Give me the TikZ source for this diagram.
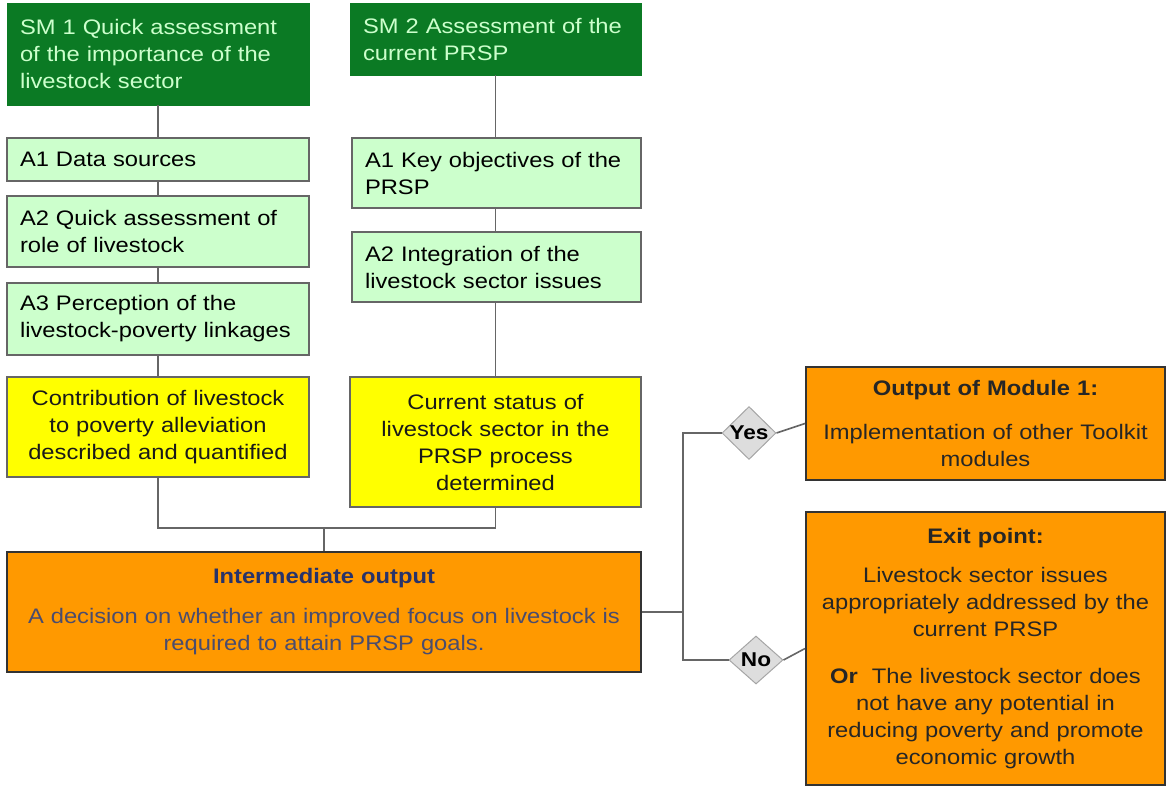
\documentclass[tikz,border=0pt]{standalone}
\usepackage{fontspec}
\setmainfont{Liberation Sans}[FakeStretch=1.13]
\usetikzlibrary{shapes.geometric}
\hyphenpenalty=10000
\exhyphenpenalty=10000
\definecolor{dkgreen}{HTML}{0B7A24}
\definecolor{ltgreen}{HTML}{CCFFCC}
\definecolor{ylw}{HTML}{FFFF00}
\definecolor{org}{HTML}{FF9900}
\definecolor{lnk}{HTML}{666666}
\definecolor{navy}{HTML}{28336A}
\definecolor{slate}{HTML}{4A4C6E}
\definecolor{dia}{HTML}{DDDDDD}
\tikzset{
  base/.style={rectangle, inner sep=0pt, font=\fontsize{21}{27}\selectfont},
  smbox/.style={base, fill=dkgreen, draw=dkgreen, text=ltgreen, align=left},
  actbox/.style={base, fill=ltgreen, draw=lnk, line width=1.5pt, align=left},
  ybox/.style={base, fill=ylw, draw=lnk, line width=1.5pt, align=center, text=black!90},
  obox/.style={base, fill=org, draw=black!80, line width=2pt, align=center, text=black!85},
  decis/.style={diamond, fill=dia, draw=black!35, line width=1pt, inner sep=0pt,
     minimum width=54pt, minimum height=48pt, font=\bfseries\fontsize{20}{24}\selectfont},
  conn/.style={draw=lnk, line width=1.6pt},
}
% box from corners: #1 name, #2 style, x1,y1,x2,y2, text
\newcommand{\pbox}[7]{%
  \pgfmathsetmacro{\cx}{(#3+#5)/2}\pgfmathsetmacro{\cy}{(#4+#6)/2}%
  \pgfmathsetmacro{\bw}{#5-#3}\pgfmathsetmacro{\bh}{#6-#4}%
  \pgfmathsetmacro{\tw}{#5-#3-26}%
  \node[#2, minimum width=\bw pt, minimum height=\bh pt, text width=\tw pt] (#1) at (\cx,\cy) {#7};}
\begin{document}
\begin{tikzpicture}[x=1pt,y=-1pt]
\useasboundingbox (0,0) rectangle (1170,787);
% column 1
\pbox{sma}{smbox}{7}{3}{309}{105}{SM 1 Quick assessment\\of the importance of the\\livestock sector}
\pbox{la}{actbox}{7}{138}{309}{181}{A1 Data sources}
\pbox{lb}{actbox}{7}{196}{309}{267}{A2 Quick assessment of\\role of livestock}
\pbox{lc}{actbox}{7}{283}{309}{355}{A3 Perception of the\\livestock-poverty linkages}
\pbox{yl}{ybox}{7}{377}{309}{477}{Contribution of livestock\\to poverty alleviation\\described and quantified}
% column 2
\pbox{smb}{smbox}{350}{3}{641}{75}{SM 2 Assessment of the\\current PRSP}
\pbox{ra}{actbox}{352}{138}{641}{208}{A1 Key objectives of the\\PRSP}
\pbox{rb}{actbox}{352}{232}{641}{302}{A2 Integration of the\\livestock sector issues}
\pbox{yr}{ybox}{350}{377}{641}{507}{Current status of\\livestock sector in the\\PRSP process\\determined}
% intermediate
\pbox{int}{obox}{7}{552}{641}{672}{{\bfseries\color{navy}Intermediate output}\\[13pt]{\color{slate}A decision on whether an improved focus on livestock is}\\{\color{slate}required to attain PRSP goals.}}
% outputs
\pbox{out}{obox}{806}{367}{1165}{480}{{\bfseries Output of Module 1:}\\[17pt]Implementation of other Toolkit\\modules}
\pbox{ext}{obox}{806}{512}{1165}{785}{{\bfseries Exit point:}\\[12pt]Livestock sector issues\\appropriately addressed by the\\current PRSP\\[20pt]{\bfseries Or}\hspace{14pt}The livestock sector does\\not have any potential in\\reducing poverty and promote\\economic growth}
% diamonds
\node[decis] (yes) at (749,433) {Yes};
\node[decis] (no) at (756,660) {No};
% connectors
\draw[conn] (sma.south) -- (la.north);
\draw[conn] (la.south) -- (lb.north);
\draw[conn] (lb.south) -- (lc.north);
\draw[conn] (lc.south) -- (yl.north);
\draw[conn] (smb.south) -- (smb.south |- ra.north);
\draw[conn] (smb.south |- ra.south) -- (smb.south |- rb.north);
\draw[conn] (smb.south |- rb.south) -- (smb.south |- yr.north);
\coordinate (m) at (324,528);
\draw[conn] (yl.south) |- (m) -| (smb.south |- yr.south);
\draw[conn] (m) -- (int.north);
\coordinate (j) at (683,612);
\draw[conn] (int.east) -- (j);
\draw[conn] (yes.west) -| (j) |- (no.west);
\draw[conn] (yes.east) -- (out.west);
\draw[conn] (no.east) -- (ext.west);
\end{tikzpicture}
\end{document}
